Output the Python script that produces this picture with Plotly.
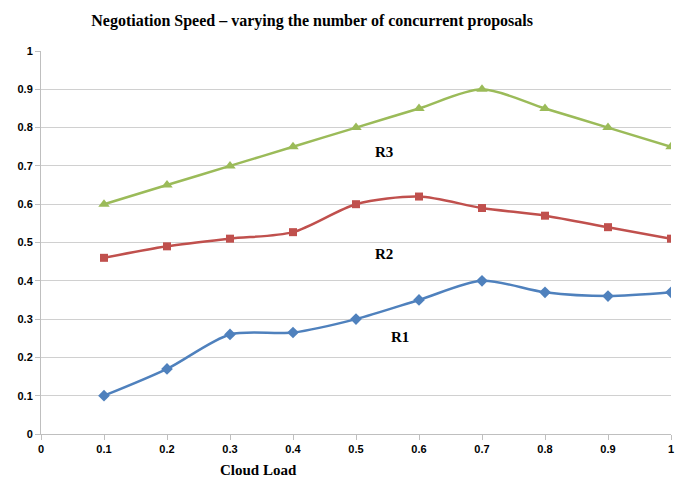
import plotly.graph_objects as go

cloud_load = [0.1, 0.2, 0.3, 0.4, 0.5, 0.6, 0.7, 0.8, 0.9, 1.0]
r1 = [0.10, 0.17, 0.26, 0.265, 0.30, 0.35, 0.40, 0.37, 0.36, 0.37]
r2 = [0.46, 0.49, 0.51, 0.527, 0.60, 0.62, 0.59, 0.57, 0.54, 0.51]
r3 = [0.60, 0.65, 0.70, 0.75, 0.80, 0.85, 0.90, 0.85, 0.80, 0.75]

series = [
    ("R1", r1, "#4F81BD", "diamond", 9, (0.57, 0.253)),
    ("R2", r2, "#C0504D", "square", 8, (0.545, 0.47)),
    ("R3", r3, "#9BBB59", "triangle-up", 10, (0.545, 0.736)),
]

tick_vals = [0, 0.1, 0.2, 0.3, 0.4, 0.5, 0.6, 0.7, 0.8, 0.9, 1]
tick_text = ["0", "0.1", "0.2", "0.3", "0.4", "0.5", "0.6", "0.7", "0.8", "0.9", "1"]

fig = go.Figure()
for name, vals, color, sym, size, _ in series:
    fig.add_trace(go.Scatter(
        x=cloud_load, y=vals, name=name, mode="lines+markers",
        line=dict(color=color, width=2.5, shape="spline", smoothing=0.8),
        marker=dict(symbol=sym, size=size, color=color),
    ))

serif = "Liberation Serif, Times New Roman, serif"
for name, _, _, _, _, (lx, ly) in series:
    fig.add_annotation(x=lx, y=ly, text="<b>" + name + "</b>", showarrow=False,
                       font=dict(family=serif, size=15, color="#000000"))

fig.add_annotation(xref="paper", yref="paper", x=0.345, y=-0.12, text="<b>Cloud Load</b>",
                   showarrow=False, font=dict(family=serif, size=15, color="#000000"))

tick_font = dict(family="Liberation Sans, Arial, sans-serif", size=11, color="#000000", weight="bold")

fig.update_layout(
    width=686, height=480,
    margin=dict(l=41, r=15, t=51, b=46),
    paper_bgcolor="white", plot_bgcolor="white",
    showlegend=False,
    title=dict(text="<b>Negotiation Speed \u2013 varying the number of concurrent proposals</b>",
               x=0.455, xanchor="center", y=0.958, yanchor="middle",
               font=dict(family=serif, size=16, color="#000000")),
    xaxis=dict(range=[0, 1], tickvals=tick_vals, ticktext=tick_text, tickfont=tick_font,
               showgrid=False, zeroline=False, showline=True, linecolor="#BFBFBF", linewidth=1,
               ticks="outside", ticklen=5, tickcolor="#BFBFBF"),
    yaxis=dict(range=[0, 1], tickvals=tick_vals, ticktext=tick_text, tickfont=tick_font,
               showgrid=True, gridcolor="#D0D0D0", gridwidth=1, zeroline=False,
               showline=True, linecolor="#BFBFBF", linewidth=1,
               ticks="outside", ticklen=5, tickcolor="#BFBFBF"),
)

fig.write_html("out.html")
